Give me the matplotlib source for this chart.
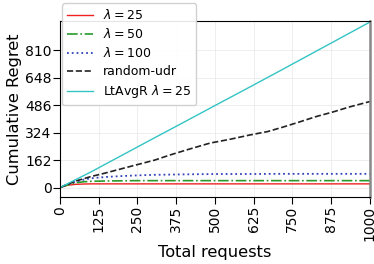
import matplotlib
matplotlib.use("Agg")
import matplotlib.pyplot as plt

# values
x_lam = [0, 25, 50, 75, 100, 150, 200, 250, 300, 400, 500, 600, 700, 800, 900, 1000]
lam25 = [0, 14, 19, 21, 22, 22, 22, 22, 22, 22, 22, 22, 22, 22, 22, 22]
lam50 = [0, 16, 28, 34, 37, 39, 40, 41, 41, 41, 41, 41, 41, 41, 41, 41]
lam100 = [0, 20, 35, 46, 55, 63, 68, 72, 75, 78, 80, 80, 81, 81, 81, 81]

x_rand = [0, 50, 100, 145, 226, 306, 355, 420, 484, 550, 613, 670, 719, 770, 826, 880, 932, 1000]
rand_udr = [0, 38, 65, 85, 124, 162, 192, 228, 262, 285, 310, 330, 356, 385, 418, 445, 474, 507]

x_lt = [0, 100, 200, 300, 400, 500, 600, 700, 800, 900, 1000]
ltavgr = [0, 92, 190, 288, 385, 483, 580, 678, 777, 876, 975]

xticks = [0, 125, 250, 375, 500, 625, 750, 875, 1000]
yticks = [0, 162, 324, 486, 648, 810]

fig = plt.figure(figsize=(3.74, 2.64), dpi=100)
ax = fig.add_axes([0.160, 0.254, 0.829, 0.665])

ax.plot(x_lam, lam25, color="#ee2222", ls="-", lw=1.0, label=r"$\lambda=25$")
ax.plot(x_lam, lam50, color="#2a9a2a", ls="-.", lw=1.2, label=r"$\lambda=50$")
ax.plot(x_lam, lam100, color="#3344bb", ls=":", lw=1.3, label=r"$\lambda=100$")
ax.plot(x_rand, rand_udr, color="#222222", ls="--", lw=1.2, label="random-udr")
ax.plot(x_lt, ltavgr, color="#33c4c4", ls="-", lw=1.0, label=r"LtAvgR $\lambda=25$")

ax.set_xlim(0, 1000)
ax.set_ylim(-55, 979)
ax.set_xticks(xticks)
ax.set_yticks(yticks)
ax.tick_params(axis="x", labelrotation=90, labelsize=10, length=5, pad=1.5)
ax.tick_params(axis="y", labelsize=10, length=5, pad=1)
ax.grid(True, color="#ebebeb", lw=0.6)
ax.spines["right"].set_color("#888888")
ax.spines["right"].set_linewidth(1.8)

ax.set_xlabel("Total requests", fontsize=11.7, labelpad=3)
ax.set_ylabel("Cumulative Regret", fontsize=11.7, labelpad=2)

ax.legend(loc="upper left", bbox_to_anchor=(62 / 374, 1 - 3 / 264),
          bbox_transform=fig.transFigure, borderaxespad=0, fontsize=9,
          framealpha=0.9, handlelength=2.1, handletextpad=0.8, labelspacing=0.4)

fig.savefig("out.png", dpi=100)
